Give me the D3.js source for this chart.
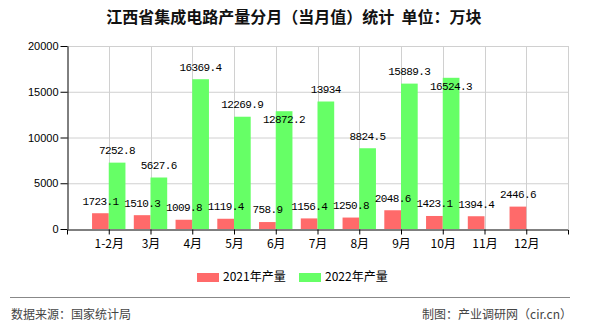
<!DOCTYPE html>
<html><head><meta charset="utf-8">
<script src="https://cdn.jsdelivr.net/npm/d3@7"></script>
<style>
body{margin:0;background:#fff;}
svg{display:block;}
</style></head>
<body>
<svg id="c" width="590" height="330"></svg>
<script>
const categories = ["1-2月","3月","4月","5月","6月","7月","8月","9月","10月","11月","12月"];
const values2021 = [1723.1,1510.3,1009.8,1119.4,758.9,1156.4,1250.8,2048.6,1423.1,1394.4,2446.6];
const values2022 = [7252.8,5627.6,16369.4,12269.9,12872.2,13934,8824.5,15889.3,16524.3,null,null];
const seriesNames = ["2021年产量","2022年产量"];
const seriesColors = ["#ff6a6a","#66ff66"];
const yTicks = [0,5000,10000,15000,20000];
const titleText = "江西省集成电路产量分月（当月值）统计  单位：万块";
const sourceText = "数据来源：国家统计局";
const creditText = "制图：产业调研网（cir.cn）";

const svg = d3.select("#c");
const L = 67, R = 568, T = 46, B = 229;
const cjk = "'Noto Sans CJK SC','Noto Sans',sans-serif";
const sans = "'Liberation Sans',Arial,sans-serif";
const mono = "'Liberation Mono','DejaVu Sans Mono',monospace";

const x = d3.scalePoint().domain(categories).range([L, R]).padding(1);
const y = d3.scaleLinear().domain([0, 20000]).range([B, T]);
const step = x.step();
const bw = step * 0.4;

// title
svg.append("text").attr("x", 294).attr("y", 23).attr("text-anchor","middle")
  .attr("font-family", cjk).attr("font-size", 16).attr("font-weight","bold")
  .attr("fill","#111").attr("xml:space","preserve").text(titleText);

// grid
const g = svg.append("g");
g.selectAll("line.h").data(yTicks.filter(d=>d>0)).join("line")
  .attr("x1", L).attr("x2", R).attr("y1", d=>y(d)+0.5).attr("y2", d=>y(d)+0.5)
  .attr("stroke","#d0d0d0");
const vgrid = categories.map(c=>x(c)).concat([R]);
g.selectAll("line.v").data(vgrid).join("line")
  .attr("x1", d=>Math.round(d)+0.5).attr("x2", d=>Math.round(d)+0.5)
  .attr("y1", T).attr("y2", B).attr("stroke","#d0d0d0");

// bars
const series = [values2021, values2022];
series.forEach((vals, si) => {
  svg.append("g").selectAll("rect").data(categories.map((c,i)=>({c, v: vals[i]})).filter(d=>d.v!=null))
    .join("rect")
    .attr("x", d => x(d.c) - bw + si*bw)
    .attr("y", d => y(d.v))
    .attr("width", bw)
    .attr("height", d => B - y(d.v))
    .attr("fill", seriesColors[si]);
});

// axes
const yAxis = d3.axisLeft(y).tickValues(yTicks).tickFormat(d3.format("d")).tickSize(7).tickSizeOuter(0).tickPadding(2);
const ya = svg.append("g").attr("transform", `translate(${L+0.5},0)`).call(yAxis);
ya.selectAll("text").attr("font-family", sans).attr("font-size", 11).attr("fill","#000");
ya.selectAll("line,path").attr("stroke","#000");

const xAxis = d3.axisBottom(x).tickSize(5).tickSizeOuter(5).tickPadding(5);
const xa = svg.append("g").attr("transform", `translate(0,${B+0.5})`).call(xAxis);
xa.selectAll("text").attr("font-family", cjk).attr("font-size", 12).attr("fill","#000");
xa.selectAll("line,path").attr("stroke","#000");

// data labels with simple collision avoidance
const placed = [];
const charW = 6, lh = 12, pad = 2;
const labels = [];
categories.forEach((c,i) => {
  series.forEach((vals, si) => {
    const v = vals[i];
    if (v == null) return;
    const cx = x(c) - bw/2 + si*bw;
    const txt = String(v);
    const w = txt.length * charW;
    let cy = y(v) - 12.5;
    const box = (yy) => ({x0: cx - w/2, x1: cx + w/2, y0: yy - lh/2, y1: yy + lh/2});
    const hit = (b) => placed.some(p => b.x0 < p.x1 + pad && b.x1 > p.x0 - pad && b.y0 < p.y1 && b.y1 > p.y0);
    if (hit(box(cy))) cy = y(v) + 8;
    placed.push(box(cy));
    labels.push({cx, cy, txt});
  });
});
svg.append("g").selectAll("text").data(labels).join("text")
  .attr("x", d=>d.cx).attr("y", d=>d.cy).attr("dy","0.35em")
  .attr("text-anchor","middle").attr("font-family", mono)
  .attr("font-size", 11).attr("letter-spacing","-0.6px").attr("fill","#000")
  .text(d=>d.txt);

// legend
const lg = svg.append("g");
const legX = [197, 299];
seriesNames.forEach((n, i) => {
  lg.append("rect").attr("x", legX[i]).attr("y", 273).attr("width", 22).attr("height", 9).attr("fill", seriesColors[i]);
  lg.append("text").attr("x", legX[i]+26).attr("y", 277).attr("dy","0.35em")
    .attr("font-family", cjk).attr("font-size", 12).attr("fill","#000").text(n);
});

// footer
svg.append("line").attr("x1",10).attr("x2",570).attr("y1",297.5).attr("y2",297.5).attr("stroke","#888");
svg.append("text").attr("x", 11).attr("y", 315).attr("dy","0.35em")
  .attr("font-family", cjk).attr("font-size", 12).attr("fill","#444").text(sourceText);
svg.append("text").attr("x", 572).attr("y", 315).attr("dy","0.35em").attr("text-anchor","end")
  .attr("font-family", cjk).attr("font-size", 12).attr("fill","#444").text(creditText);
</script>
</body></html>
